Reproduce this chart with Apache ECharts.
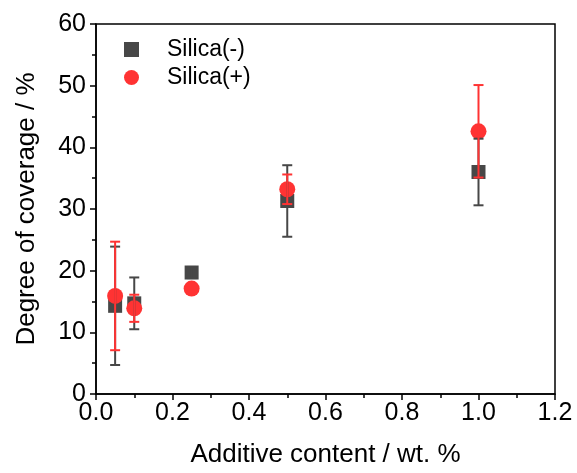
<!DOCTYPE html>
<html>
<head>
<meta charset="utf-8">
<script src="https://cdn.jsdelivr.net/npm/echarts@6/dist/echarts.min.js"></script>
<style>
html,body{margin:0;padding:0;background:#fff;}
#chart{width:577px;height:473px;}
</style>
</head>
<body>
<div id="chart"></div>
<script>
const xValues = [0.05, 0.1, 0.25, 0.5, 1.0];
const silicaMinus = [14.3, 14.7, 19.7, 31.3, 36.0];
const silicaMinusErr = [9.6, 4.2, 0.9, 5.8, 5.4];
const silicaPlus = [15.9, 13.9, 17.1, 33.2, 42.6];
const silicaPlusErr = [8.8, 2.2, 0, 2.4, 7.5];
const seriesNames = ['Silica(-)', 'Silica(+)'];

const GRAY = '#474747';
const RED = '#ff3333';
const FONT = 'Liberation Sans, Arial, sans-serif';

function pairs(ys) { return xValues.map((x, i) => [x, ys[i]]); }
function errData(ys, es) { return xValues.map((x, i) => [x, ys[i] - es[i], ys[i] + es[i]]); }

function errRender(color) {
  return function (params, api) {
    const lo = api.coord([api.value(0), api.value(1)]);
    const hi = api.coord([api.value(0), api.value(2)]);
    if (Math.abs(hi[1] - lo[1]) < 0.5) return null;
    const w = 5;
    const style = { stroke: color, lineWidth: 2 };
    return {
      type: 'group',
      children: [
        { type: 'line', shape: { x1: lo[0], y1: lo[1], x2: hi[0], y2: hi[1] }, style },
        { type: 'line', shape: { x1: lo[0] - w, y1: lo[1], x2: lo[0] + w, y2: lo[1] }, style },
        { type: 'line', shape: { x1: hi[0] - w, y1: hi[1], x2: hi[0] + w, y2: hi[1] }, style }
      ]
    };
  };
}

const chart = echarts.init(document.getElementById('chart'));
chart.setOption({
  animation: false,
  backgroundColor: '#fff',
  grid: { left: 96, right: 22, top: 24, bottom: 78, show: true, borderColor: '#000', borderWidth: 1.5, backgroundColor: 'transparent' },
  legend: {
    orient: 'vertical', left: 119, top: 33, itemWidth: 15, itemHeight: 15, itemGap: 5,
    data: seriesNames,
    textStyle: { fontFamily: FONT, fontSize: 23, color: '#000', padding: [0, 0, 0, 23] }
  },
  xAxis: {
    type: 'value', min: 0, max: 1.2, interval: 0.2,
    name: 'Additive content / wt. %', nameLocation: 'middle', nameGap: 48,
    nameTextStyle: { fontFamily: FONT, fontSize: 26, color: '#000' },
    axisLine: { show: true, lineStyle: { color: '#000', width: 1.5 } },
    axisTick: { show: true, length: 6, lineStyle: { color: '#000', width: 1.5 } },
    minorTick: { show: true, splitNumber: 2, length: 4, lineStyle: { color: '#000', width: 1.5 } },
    splitLine: { show: false },
    axisLabel: { fontFamily: FONT, fontSize: 25, color: '#000', margin: 7, formatter: v => v.toFixed(1) }
  },
  yAxis: {
    type: 'value', min: 0, max: 60, interval: 10,
    name: 'Degree of coverage / %', nameLocation: 'middle', nameGap: 56,
    nameTextStyle: { fontFamily: FONT, fontSize: 26, color: '#000' },
    axisLine: { show: true, lineStyle: { color: '#000', width: 1.5 } },
    axisTick: { show: true, length: 6, lineStyle: { color: '#000', width: 1.5 } },
    minorTick: { show: true, splitNumber: 2, length: 4, lineStyle: { color: '#000', width: 1.5 } },
    splitLine: { show: false },
    axisLabel: { fontFamily: FONT, fontSize: 25, color: '#000', margin: 10 }
  },
  series: [
    { name: seriesNames[0], type: 'scatter', symbol: 'rect', symbolSize: 14, itemStyle: { color: GRAY, opacity: 1 }, data: pairs(silicaMinus), z: 2 },
    { name: seriesNames[1], type: 'scatter', symbol: 'circle', symbolSize: 16, itemStyle: { color: RED, opacity: 1 }, data: pairs(silicaPlus), z: 3 },
    { type: 'custom', renderItem: errRender(GRAY), data: errData(silicaMinus, silicaMinusErr), z: 4, encode: { x: 0, y: [1, 2] } },
    { type: 'custom', renderItem: errRender(RED), data: errData(silicaPlus, silicaPlusErr), z: 5, encode: { x: 0, y: [1, 2] } }
  ]
});
</script>
</body>
</html>
